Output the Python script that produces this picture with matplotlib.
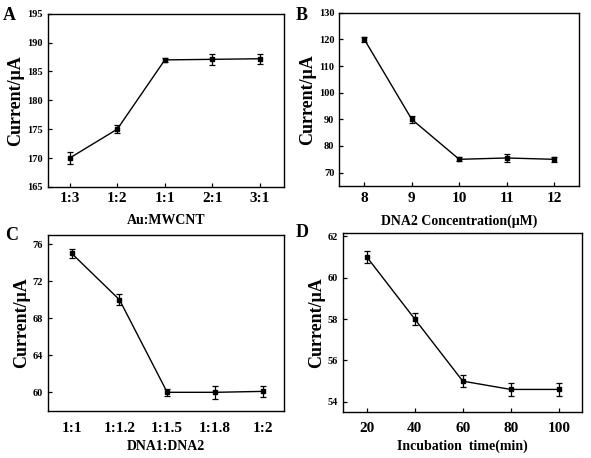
import matplotlib.pyplot as plt
import numpy as np

plt.rcParams['font.family'] = 'Liberation Serif'
plt.rcParams['font.weight'] = 'bold'

# Panel A data
a_labels = ['1:3', '1:2', '1:1', '2:1', '3:1']
a_vals = [170.0, 175.0, 187.0, 187.1, 187.2]
a_err = [1.0, 0.7, 0.4, 1.0, 0.9]

# Panel B data
b_x = [8, 9, 10, 11, 12]
b_vals = [120.0, 90.0, 75.0, 75.5, 75.0]
b_err = [1.0, 1.3, 0.8, 1.5, 1.0]

# Panel C data
c_labels = ['1:1', '1:1.2', '1:1.5', '1:1.8', '1:2']
c_vals = [75.0, 70.0, 60.0, 60.0, 60.1]
c_err = [0.5, 0.6, 0.4, 0.7, 0.6]

# Panel D data
d_x = [20, 40, 60, 80, 100]
d_vals = [61.0, 58.0, 55.0, 54.6, 54.6]
d_err = [0.3, 0.3, 0.3, 0.3, 0.3]

fig = plt.figure(figsize=(5.91, 4.58), dpi=100)
fig.patch.set_facecolor('white')

axA = fig.add_axes([0.081, 0.592, 0.399, 0.378])
axB = fig.add_axes([0.574, 0.594, 0.406, 0.378])
axC = fig.add_axes([0.081, 0.103, 0.399, 0.384])
axD = fig.add_axes([0.580, 0.100, 0.404, 0.391])


def draw(ax, x, y, err):
    ax.errorbar(x, y, yerr=err, color='black', lw=1.0, marker='s', ms=3.5,
                capsize=2, elinewidth=0.9, capthick=0.9)
    ax.tick_params(direction='in', length=3, width=0.9)
    ax.tick_params(axis='y', labelsize=7.5)
    ax.tick_params(axis='x', labelsize=11, pad=4)
    for s in ax.spines.values():
        s.set_linewidth(1.0)
    ax.set_ylabel('Current/\u03bcA', fontsize=13, fontweight='bold', labelpad=2)


# A
xa = np.arange(len(a_labels))
draw(axA, xa, a_vals, a_err)
axA.set_xticks(xa)
axA.set_xticklabels(a_labels)
axA.set_xlim(-0.46, 4.5)
axA.set_ylim(165, 195)
axA.set_yticks(np.arange(165, 196, 5))
axA.set_xlabel('Au:MWCNT', fontsize=10, fontweight='bold', labelpad=6)

# B
draw(axB, b_x, b_vals, b_err)
axB.set_xticks(b_x)
axB.set_xlim(7.47, 12.53)
axB.set_ylim(65, 130)
axB.set_yticks(np.arange(70, 131, 10))
axB.set_xlabel('DNA2 Concentration(\u03bcM)', fontsize=10, fontweight='bold', labelpad=7)

# C
xc = np.arange(len(c_labels))
draw(axC, xc, c_vals, c_err)
axC.set_xticks(xc)
axC.set_xticklabels(c_labels)
axC.tick_params(axis='x', length=0, pad=8)
axC.set_xlim(-0.5, 4.44)
axC.set_ylim(58, 77)
axC.set_yticks(np.arange(60, 77, 4))
axC.set_xlabel('DNA1:DNA2', fontsize=10, fontweight='bold', labelpad=4)

# D
draw(axD, d_x, d_vals, d_err)
axD.set_xticks(d_x)
axD.set_xlim(10, 109.5)
axD.set_ylim(53.5, 62.15)
axD.set_yticks(np.arange(54, 63, 2))
axD.tick_params(axis='x', pad=7)
axD.set_xlabel('Incubation  time(min)', fontsize=10, fontweight='bold', labelpad=3)

for txt, x, y in [('A', 0.005, 0.985), ('B', 0.5, 0.985), ('C', 0.008, 0.505), ('D', 0.5, 0.51)]:
    fig.text(x, y, txt, fontsize=13, fontweight='bold', va='top', ha='left')

fig.savefig('out.png', dpi=100, facecolor='white')
